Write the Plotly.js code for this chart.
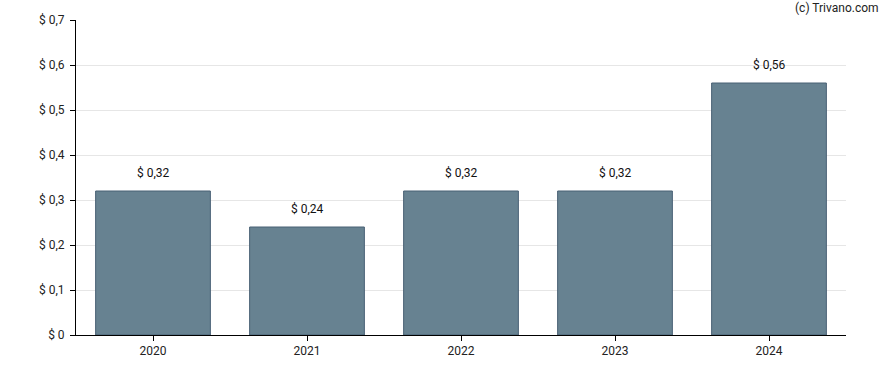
<!DOCTYPE html>
<html>
<head>
<meta charset="utf-8">
<script src="https://cdn.plot.ly/plotly-3.0.1.min.js"></script>
<style>html,body{margin:0;padding:0;background:#fff}#chart{width:888px;height:370px}</style>
</head>
<body>
<div id="chart"></div>
<script>
const years = ["2020", "2021", "2022", "2023", "2024"];
const values = [0.32, 0.24, 0.32, 0.32, 0.56];
const labels = ["$ 0,32", "$ 0,24", "$ 0,32", "$ 0,32", "$ 0,56"];
const yTickVals = [0, 0.1, 0.2, 0.3, 0.4, 0.5, 0.6, 0.7];
const yTickText = ["$ 0", "$ 0,1", "$ 0,2", "$ 0,3", "$ 0,4", "$ 0,5", "$ 0,6", "$ 0,7"];
const xPos = years.map((_, i) => i);

const trace = {
  type: "bar",
  x: xPos,
  y: values,
  width: 0.745,
  marker: {color: "rgb(103,130,145)", line: {color: "rgb(72,96,116)", width: 1}},
  hoverinfo: "none"
};

const annotations = xPos.map((xp, i) => ({
  x: xp, y: values[i], xref: "x", yref: "y",
  text: labels[i], showarrow: false, yanchor: "bottom", yshift: 9,
  font: {family: "Roboto, Arial, sans-serif", size: 12, color: "#111"}
}));
annotations.push({
  xref: "paper", yref: "paper", x: 1.046, y: 1.0, xanchor: "right", yanchor: "bottom", yshift: 3,
  text: "(c) Trivano.com", showarrow: false,
  font: {family: "Roboto, Arial, sans-serif", size: 12, color: "#222"}
});

const layout = {
  width: 888, height: 370,
  margin: {l: 76, r: 42, t: 20, b: 35},
  paper_bgcolor: "#fff", plot_bgcolor: "#fff",
  font: {family: "Roboto, Arial, sans-serif", size: 12, color: "#222"},
  showlegend: false,
  xaxis: {
    type: "linear",
    range: [-0.5, 4.5],
    tickvals: xPos, ticktext: years,
    showline: true, linecolor: "#000", linewidth: 1,
    ticks: "outside", ticklen: 5, tickcolor: "#000",
    showgrid: false, zeroline: false,
    tickfont: {size: 12, color: "#222"}
  },
  yaxis: {
    range: [0, 0.7],
    tickvals: yTickVals, ticktext: yTickText,
    showline: true, linecolor: "#000", linewidth: 1,
    ticks: "outside", ticklen: 5, tickcolor: "#000",
    ticklabelstandoff: 3,
    showgrid: true, gridcolor: "#e6e6e6", gridwidth: 1,
    zeroline: false,
    tickfont: {size: 12, color: "#222"}
  },
  annotations: annotations
};

Plotly.newPlot("chart", [trace], layout, {staticPlot: true, displayModeBar: false});
</script>
</body>
</html>
